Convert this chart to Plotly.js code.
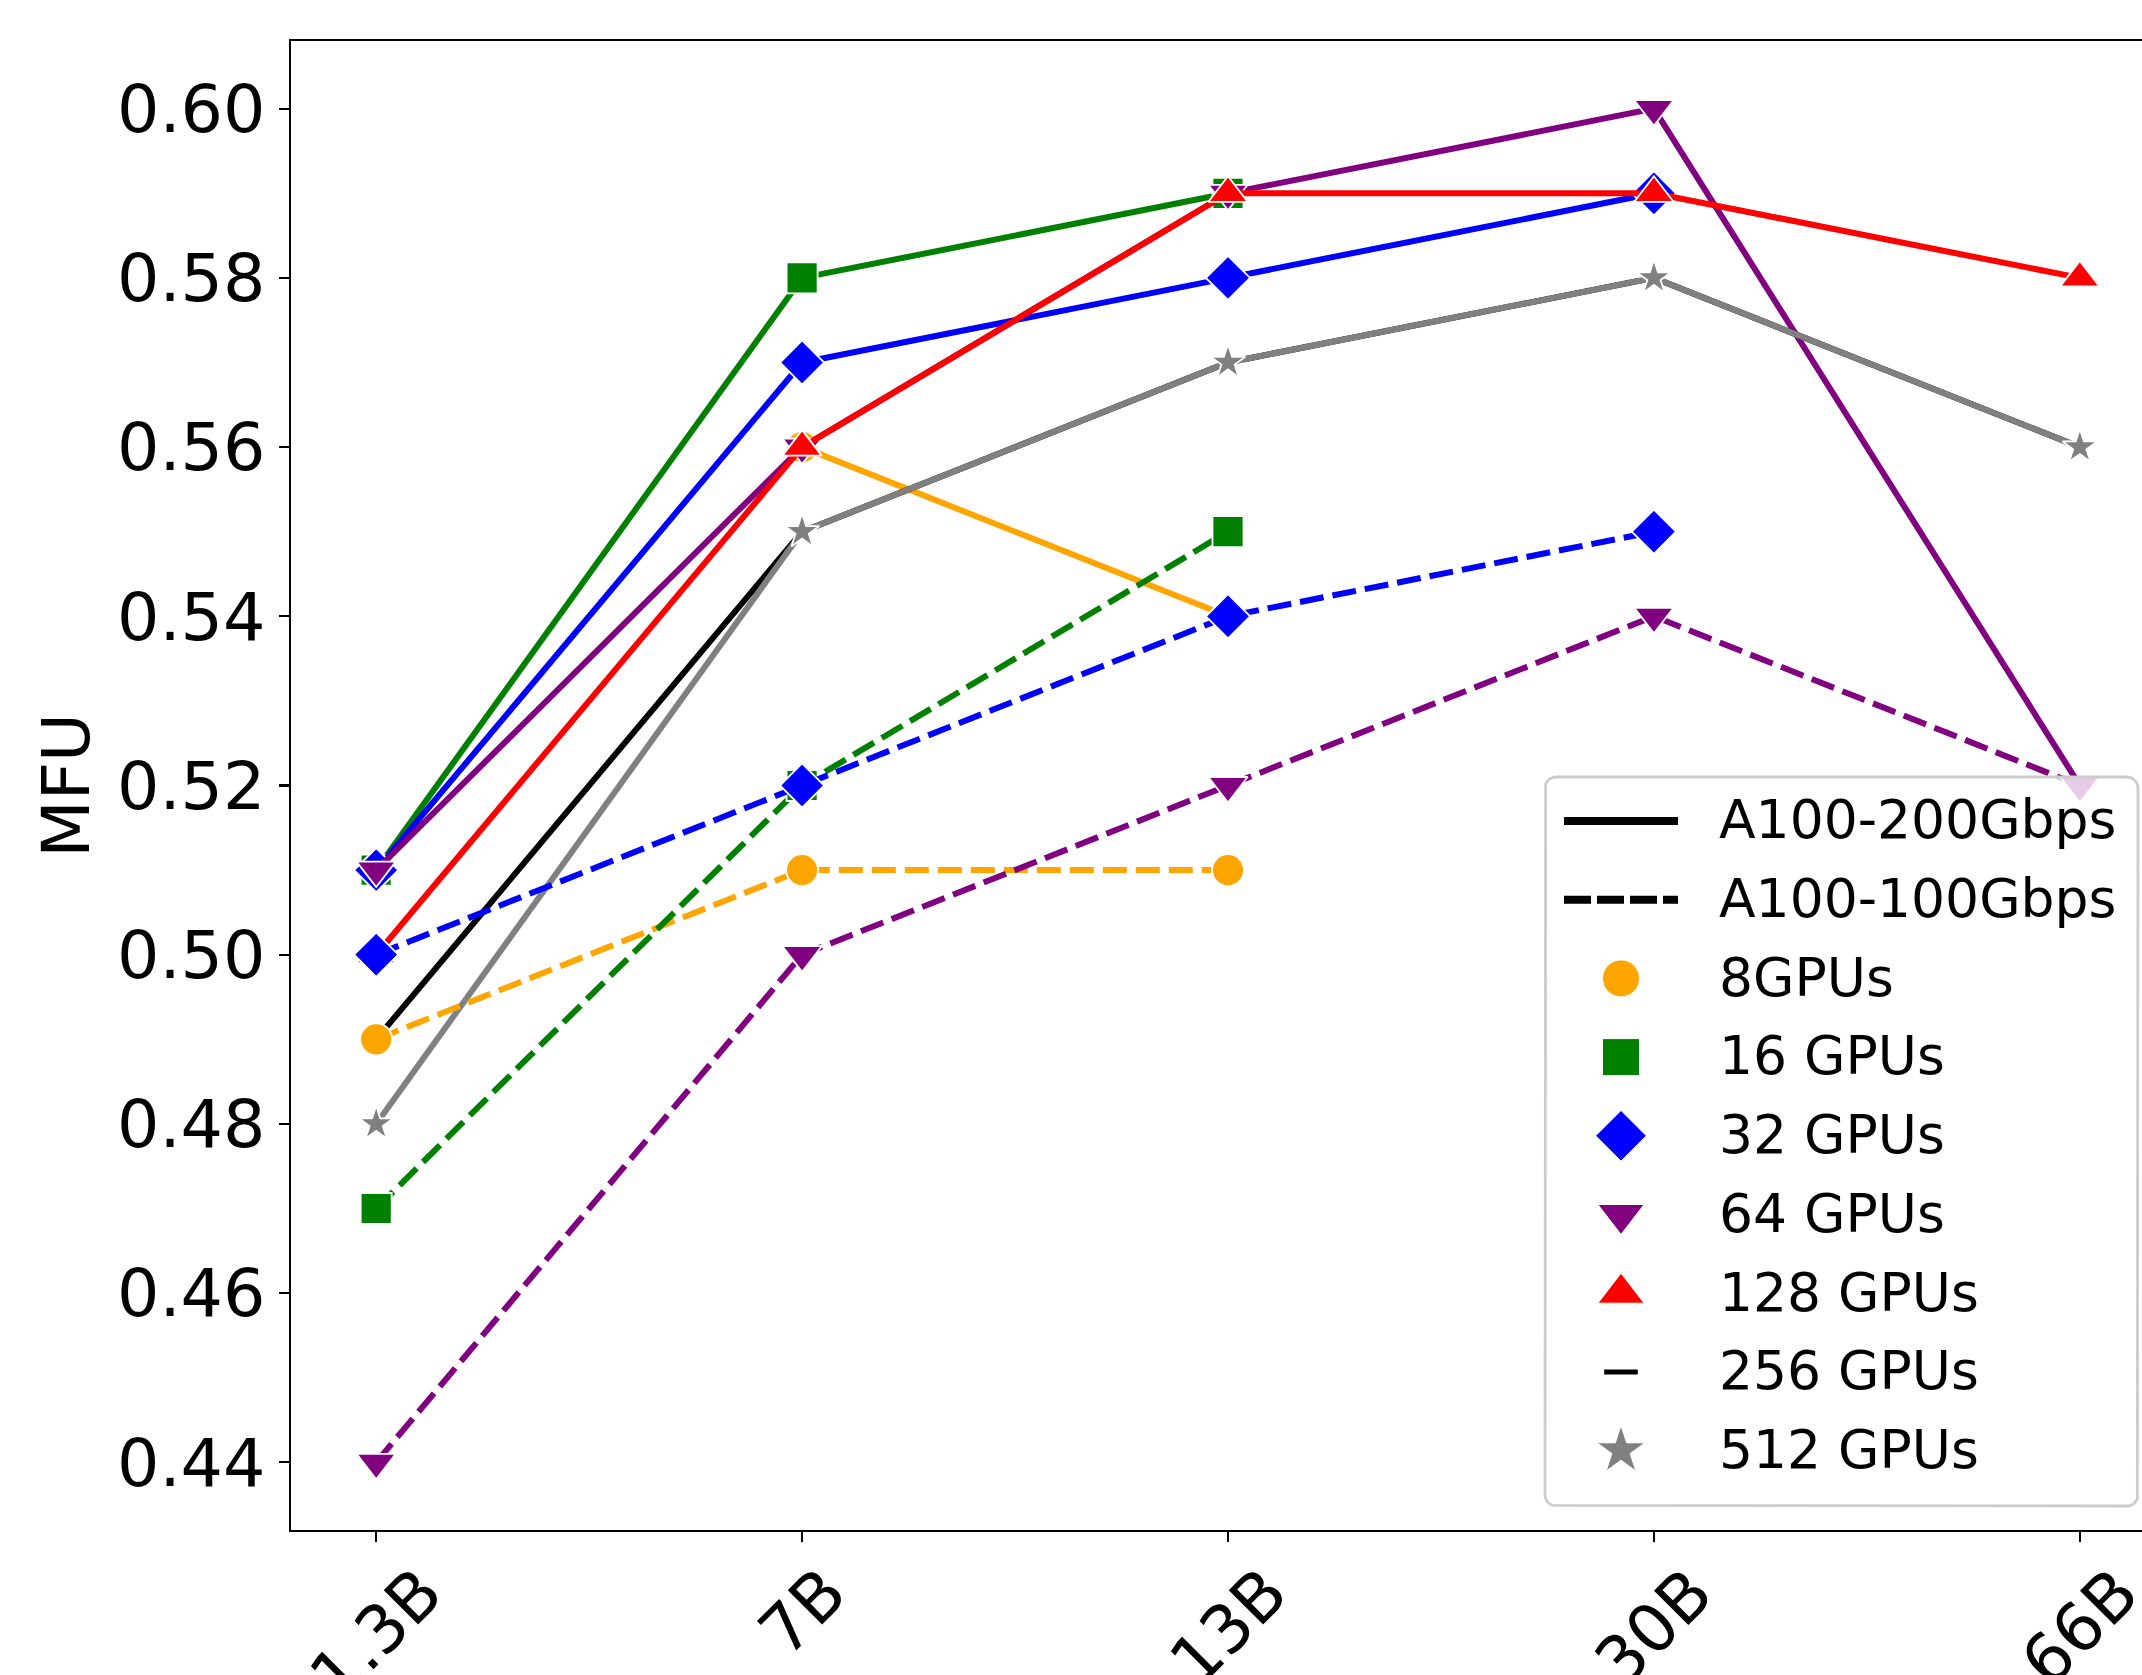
<!DOCTYPE html>
<html><head><meta charset="utf-8">
<script src="https://cdn.plot.ly/plotly-3.0.1.min.js"></script>
<style>html,body{margin:0;padding:0;background:#fff}#chart{width:2142px;height:1675px}</style>
</head><body><div id="chart"></div>
<script>
// ---- data ----
const modelSizes = ['1.3B', '7B', '13B', '30B', '66B'];
const networks = ['A100-200Gbps', 'A100-100Gbps'];
const gpuLabels = ['8GPUs', '16 GPUs', '32 GPUs', '64 GPUs', '128 GPUs', '256 GPUs', '512 GPUs'];
// A100-200Gbps (solid)
const mfu200_8   = [null, 0.56, 0.54, null, null];
const mfu200_16  = [0.51, 0.58, 0.59, null, null];
const mfu200_32  = [0.51, 0.57, 0.58, 0.59, null];
const mfu200_64  = [0.51, 0.56, 0.59, 0.60, 0.52];
const mfu200_128 = [0.50, 0.56, 0.59, 0.59, 0.58];
const mfu200_256 = [0.49, 0.55, 0.57, 0.58, 0.56];
const mfu200_512 = [0.48, 0.55, 0.57, 0.58, 0.56];
// A100-100Gbps (dashed)
const mfu100_8   = [0.49, 0.51, 0.51, null, null];
const mfu100_16  = [0.47, 0.52, 0.55, null, null];
const mfu100_32  = [0.50, 0.52, 0.54, 0.55, null];
const mfu100_64  = [0.44, 0.50, 0.52, 0.54, 0.52];

// ---- styles ----
const FONT = 'DejaVu Sans, Liberation Sans, sans-serif';
const gpuStyle = [
  {color: '#FFA500', symbol: 'circle',        size: 32, lsize: 37},
  {color: '#008000', symbol: 'square',        size: 31, lsize: 37},
  {color: '#0000FF', symbol: 'diamond',       size: 34, lsize: 39},
  {color: '#800080', symbol: 'triangle-down', size: 34, lsize: 40},
  {color: '#FF0000', symbol: 'triangle-up',   size: 34, lsize: 40},
  {color: '#000000', symbol: 'line-ew',       size: 22, lsize: 24},
  {color: '#808080', symbol: 'star',          size: 26, lsize: 36}
];
const LW = 6;
const DASH = '24px,9px';

const series200 = [mfu200_8, mfu200_16, mfu200_32, mfu200_64, mfu200_128, mfu200_256, mfu200_512];
const series100 = [mfu100_8, mfu100_16, mfu100_32, mfu100_64];

const traces = [];
function addSeries(vals, gi, dashed) {
  const st = gpuStyle[gi];
  traces.push({
    type: 'scatter', mode: 'lines+markers', x: modelSizes, y: vals,
    xaxis: 'x', yaxis: 'y', showlegend: false, cliponaxis: false, hoverinfo: 'skip',
    line: {color: st.color, width: LW, dash: dashed ? DASH : 'solid'},
    marker: {symbol: st.symbol, size: st.size, color: st.color, opacity: 1,
             line: {color: '#ffffff', width: 1.8}}
  });
}
series200.forEach((v, i) => addSeries(v, i, false));
series100.forEach((v, i) => addSeries(v, i, true));

// ---- custom legend (overlay axes in pixel units) ----
const W = 2142, H = 1675, PL = 291, PT = 41, PB = 1530, PR = 2142;
const box = {x0: 1545, x1: 2138, y0: 777, y1: 1506, r: 11};
const rowY0 = 821, rowPitch = 78.7, mkX = 1621, lineX0 = 1564, lineX1 = 1678, textX = 1719, textDY = 4;

// rounded rect outline
const bx = [], by = [];
const corners = [
  [box.x1 - box.r, box.y0 + box.r, -90, 0],
  [box.x1 - box.r, box.y1 - box.r, 0, 90],
  [box.x0 + box.r, box.y1 - box.r, 90, 180],
  [box.x0 + box.r, box.y0 + box.r, 180, 270]
];
corners.forEach(c => {
  for (let a = c[2]; a <= c[3]; a += 10) {
    const t = a * Math.PI / 180;
    bx.push(c[0] + box.r * Math.cos(t));
    by.push(c[1] + box.r * Math.sin(t));
  }
});
bx.push(bx[0]); by.push(by[0]);
traces.push({
  type: 'scatter', mode: 'lines', x: bx, y: by, xaxis: 'x2', yaxis: 'y2',
  fill: 'toself', fillcolor: 'rgba(255,255,255,0.8)',
  line: {color: '#cccccc', width: 2.8}, showlegend: false, hoverinfo: 'skip'
});

const legendLabels = networks.concat(gpuLabels);
const rowYs = legendLabels.map((_, i) => rowY0 + i * rowPitch);

// line handles
traces.push({
  type: 'scatter', mode: 'lines', x: [lineX0, lineX1], y: [rowYs[0], rowYs[0]],
  xaxis: 'x2', yaxis: 'y2', line: {color: '#000', width: 8}, showlegend: false, hoverinfo: 'skip'
});
traces.push({
  type: 'scatter', mode: 'lines', x: [lineX0, lineX1], y: [rowYs[1], rowYs[1]],
  xaxis: 'x2', yaxis: 'y2', line: {color: '#000', width: 8, dash: '27px,6px'}, showlegend: false, hoverinfo: 'skip'
});
// marker handles
traces.push({
  type: 'scatter', mode: 'markers', cliponaxis: false,
  x: gpuStyle.map(() => mkX), y: rowYs.slice(2),
  xaxis: 'x2', yaxis: 'y2', showlegend: false, hoverinfo: 'skip',
  marker: {
    opacity: 1,
    symbol: gpuStyle.map(s => s.symbol), size: gpuStyle.map(s => s.lsize),
    color: gpuStyle.map(s => s.color),
    line: {color: gpuStyle.map(s => s.symbol === 'line-ew' ? '#000000' : '#ffffff'),
           width: gpuStyle.map(s => s.symbol === 'line-ew' ? 5 : 1)}
  }
});
// labels
traces.push({
  type: 'scatter', mode: 'text', cliponaxis: false,
  x: legendLabels.map(() => textX), y: rowYs.map(y => y + textDY), text: legendLabels,
  textposition: 'middle right', textfont: {family: FONT, size: 53.5, color: '#000'},
  xaxis: 'x2', yaxis: 'y2', showlegend: false, hoverinfo: 'skip'
});

// x tick labels as rotated annotations (matplotlib-style centred rotation)
const annotations = modelSizes.map(m => ({
  x: m, xref: 'x', y: 0, yref: 'paper', yshift: -20,
  text: m, textangle: -45, showarrow: false, xanchor: 'center', yanchor: 'top',
  font: {family: FONT, size: 66.7, color: '#000'}
}));

const layout = {
  width: W, height: H,
  margin: {l: PL, r: W - PR, t: PT, b: H - PB, pad: 0},
  paper_bgcolor: '#fff', plot_bgcolor: '#fff',
  font: {family: FONT, color: '#000'},
  showlegend: false,
  xaxis: {
    type: 'category', range: [-0.2, 4.146], showgrid: false, zeroline: false,
    showline: true, linecolor: '#000', linewidth: 2.2, mirror: true,
    ticks: 'outside', ticklen: 10, tickwidth: 2.2, tickcolor: '#000',
    showticklabels: false, fixedrange: true
  },
  yaxis: {
    range: [0.432, 0.608], tick0: 0.44, dtick: 0.02, tickformat: '.2f',
    showgrid: false, zeroline: false,
    showline: true, linecolor: '#000', linewidth: 2.2, mirror: false,
    ticks: 'outside', ticklen: 10, tickwidth: 2.2, tickcolor: '#000',
    tickfont: {family: FONT, size: 66.7, color: '#000'},
    title: {text: 'MFU', font: {family: FONT, size: 66.7, color: '#000'}, standoff: 6},
    fixedrange: true
  },
  xaxis2: {overlaying: 'x', anchor: 'y2', range: [PL, PR], visible: false, fixedrange: true},
  yaxis2: {overlaying: 'y', anchor: 'x2', range: [PB, PT], visible: false, fixedrange: true},
  annotations: annotations
};

Plotly.newPlot('chart', traces, layout, {staticPlot: true, displayModeBar: false});
</script></body></html>
